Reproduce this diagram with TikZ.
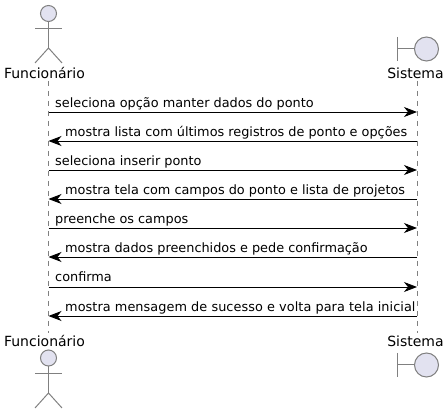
\documentclass[tikz,border=0pt]{standalone}
\usepackage{fontspec}
\setmainfont{DejaVu Sans}
\usepackage{xcolor}
\usepackage{tikz}
\usetikzlibrary{arrows.meta}
\usetikzlibrary{calc}

\definecolor{partfill}{HTML}{E2E2F0}
\definecolor{partline}{HTML}{808080}

\tikzset{
	head/.style = {circle, draw=partline, fill=partfill, line width=1pt, minimum size=16pt, inner sep=0pt},
	ball/.style = {circle, draw=partline, fill=partfill, line width=1pt, minimum size=24pt, inner sep=0pt},
	limb/.style = {draw=partline, line width=1pt},
	part/.style = {font=\fontsize{14}{16}\selectfont, inner sep=0pt, anchor=base},
	msg/.style = {font=\fontsize{12.85}{15}\selectfont, inner sep=0pt, anchor=base west},
	call/.style = {draw=black, line width=0.9pt, -{Stealth[length=13pt,width=10pt,inset=4pt]}},
}

\begin{document}
\begin{tikzpicture}[x=1pt, y=-1pt]
\useasboundingbox (0,0) rectangle (448,414);

% lifelines
\coordinate (lifeF0) at (48.5,81);
\coordinate (lifeF1) at (48.5,333);
\coordinate (lifeS0) at (417,81);
\coordinate (lifeS1) at (417,333);
\draw[partline, line width=0.8pt, dash pattern=on 5pt off 5pt] (lifeF0) -- (lifeF1);
\draw[partline, line width=0.8pt, dash pattern=on 5pt off 5pt] (lifeS0) -- (lifeS1);

% top actor
\node[head] (headA) at (48.5,13.5) {};
\coordinate (armAl) at (35,29);
\coordinate (armAr) at (62,29);
\coordinate (hipA) at (48.5,48);
\coordinate (legAl) at (35,63);
\coordinate (legAr) at (62,63);
\draw[limb] (headA) -- (hipA);
\draw[limb] (armAl) -- (armAr);
\draw[limb] (legAl) -- (hipA) -- (legAr);
\node[part] (nameA) at (44.5,79) {Funcionário};

% top boundary
\node[ball] (ballB) at (426.5,49) {};
\coordinate (barBt) at (397.5,37);
\coordinate (barBm) at (397.5,49);
\coordinate (barBb) at (397.5,61);
\draw[limb] (barBt) -- (barBb);
\draw[limb] (barBm) -- (ballB);
\node[part] (nameB) at (415.5,79) {Sistema};

% messages
\node[msg] (msg1) at (55,108) {seleciona opção manter dados do ponto};
\node[msg] (msg2) at (65,137) {mostra lista com últimos registros de ponto e opções};
\node[msg] (msg3) at (55,166) {seleciona inserir ponto};
\node[msg] (msg4) at (65,195) {mostra tela com campos do ponto e lista de projetos};
\node[msg] (msg5) at (55,224) {preenche os campos};
\node[msg] (msg6) at (65,253) {mostra dados preenchidos e pede confirmação};
\node[msg] (msg7) at (55,282) {confirma};
\node[msg] (msg8) at (65,312) {\addfontfeature{LetterSpace=0.5}mostra mensagem de sucesso e volta para tela inicial};

\coordinate (f1) at (48.5,112);
\coordinate (s1) at (417,112);
\coordinate (f2) at (48.5,141);
\coordinate (s2) at (417,141);
\coordinate (f3) at (48.5,170);
\coordinate (s3) at (417,170);
\coordinate (f4) at (48.5,199);
\coordinate (s4) at (417,199);
\coordinate (f5) at (48.5,228);
\coordinate (s5) at (417,228);
\coordinate (f6) at (48.5,257);
\coordinate (s6) at (417,257);
\coordinate (f7) at (48.5,287);
\coordinate (s7) at (417,287);
\coordinate (f8) at (48.5,316);
\coordinate (s8) at (417,316);

\draw[call] (f1) -- (s1);
\draw[call] (s2) -- (f2);
\draw[call] (f3) -- (s3);
\draw[call] (s4) -- (f4);
\draw[call] (f5) -- (s5);
\draw[call] (s6) -- (f6);
\draw[call] (f7) -- (s7);
\draw[call] (s8) -- (f8);

% bottom actor
\node[part] (nameC) at (44.5,347) {Funcionário};
\node[head] (headC) at (48.5,358) {};
\coordinate (armCl) at (35,374);
\coordinate (armCr) at (62,374);
\coordinate (hipC) at (48.5,393);
\coordinate (legCl) at (35,408);
\coordinate (legCr) at (62,408);
\draw[limb] (headC) -- (hipC);
\draw[limb] (armCl) -- (armCr);
\draw[limb] (legCl) -- (hipC) -- (legCr);

% bottom boundary
\node[part] (nameD) at (415.5,347) {Sistema};
\node[ball] (ballD) at (426.5,365) {};
\coordinate (barDt) at (397.5,353);
\coordinate (barDm) at (397.5,365);
\coordinate (barDb) at (397.5,377);
\draw[limb] (barDt) -- (barDb);
\draw[limb] (barDm) -- (ballD);
\end{tikzpicture}
\end{document}
